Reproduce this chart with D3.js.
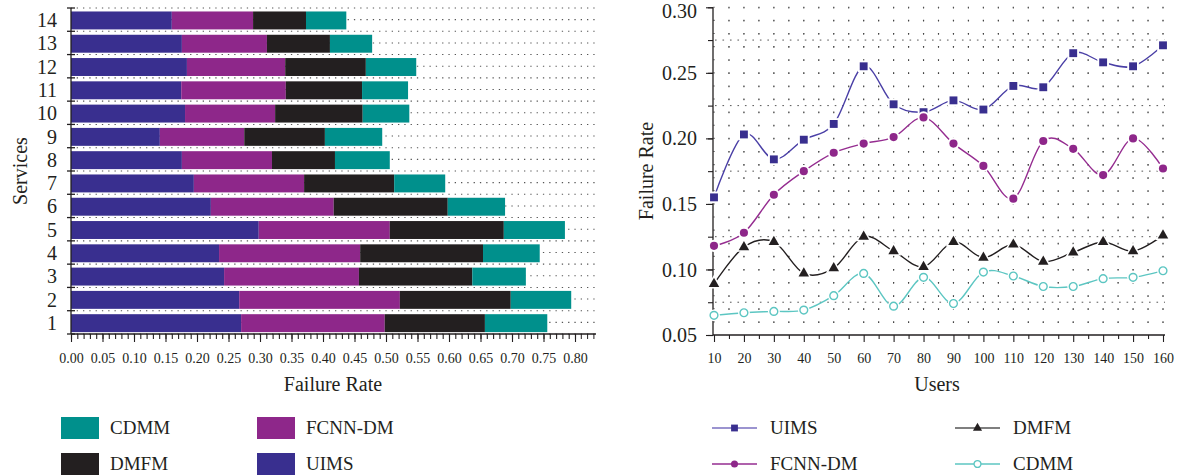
<!DOCTYPE html>
<html><head><meta charset="utf-8">
<script src="https://cdn.jsdelivr.net/npm/d3@7"></script>
<style>
body{margin:0;background:#fff}
svg{display:block}
text{font-family:"Liberation Serif","Times New Roman",serif;fill:#231f20}
</style>
</head><body>
<svg id="c" width="1179" height="476"></svg>
<script>
// ---------- data: left chart (stacked bars) ----------
const services = ["1","2","3","4","5","6","7","8","9","10","11","12","13","14"];
const barUIMS = [0.270,0.267,0.243,0.235,0.298,0.222,0.195,0.176,0.141,0.181,0.175,0.184,0.176,0.160];
const barFCNN = [0.228,0.255,0.214,0.224,0.208,0.195,0.175,0.143,0.134,0.143,0.166,0.156,0.135,0.129];
const barDMFM = [0.159,0.176,0.180,0.195,0.181,0.181,0.143,0.100,0.128,0.139,0.121,0.128,0.100,0.084];
const barCDMM = [0.099,0.096,0.085,0.090,0.097,0.091,0.081,0.087,0.091,0.074,0.073,0.080,0.067,0.064];
const leftXTicks = [0,0.05,0.10,0.15,0.20,0.25,0.30,0.35,0.40,0.45,0.50,0.55,0.60,0.65,0.70,0.75,0.80];

// ---------- data: right chart (lines) ----------
const users = [10,20,30,40,50,60,70,80,90,100,110,120,130,140,150,160];
const lineUIMS = [0.155,0.203,0.184,0.199,0.211,0.255,0.226,0.220,0.229,0.222,0.240,0.239,0.265,0.258,0.255,0.271];
const lineFCNN = [0.118,0.128,0.157,0.175,0.189,0.196,0.201,0.216,0.196,0.179,0.154,0.198,0.192,0.172,0.200,0.177];
const lineDMFM = [0.089,0.117,0.121,0.097,0.101,0.125,0.114,0.102,0.121,0.109,0.119,0.106,0.113,0.121,0.114,0.126];
const lineCDMM = [0.065,0.067,0.068,0.069,0.080,0.097,0.072,0.094,0.074,0.098,0.095,0.087,0.087,0.093,0.094,0.099];
const rightYTicks = [0.05,0.10,0.15,0.20,0.25,0.30];

const INK = "#231f20";
const COL = {UIMS:"#392f8f", FCNN:"#8e278a", DMFM:"#231f20", CDMM:"#00908c"};
const LINECOL = {UIMS:"#4a3fa6", FCNN:"#952c90", DMFM:"#231f20", CDMM:"#5cc6c2"};

const svg = d3.select("#c");

// =============== LEFT CHART ===============
const L = {x0:71, xEnd:596, y0:8, y1:334};
const xL = d3.scaleLinear().domain([0,0.8]).range([71,575]);
const yL = d3.scaleBand().domain(services.slice().reverse()).range([L.y0,L.y1]).paddingInner(0.23).paddingOuter(0.115);
const stepL = yL.step();

const gGridL = svg.append("g");
const rowsL = d3.range(0, 29).map(k => L.y0 + k*stepL/2);
const dx01 = xL(0.01)-xL(0);
gGridL.selectAll("line").data(rowsL).join("line")
  .attr("x1", L.x0).attr("x2", L.xEnd)
  .attr("y1", d=>d).attr("y2", d=>d)
  .attr("stroke", "#555").attr("stroke-width", 1.1)
  .attr("stroke-dasharray", `1.3,${(dx01-1.3).toFixed(3)}`)
  .attr("stroke-dashoffset", -dx01+0.6);

const stackRows = services.map((s,i)=>({service:s, UIMS:barUIMS[i], FCNN:barFCNN[i], DMFM:barDMFM[i], CDMM:barCDMM[i]}));
const stack = d3.stack().keys(["UIMS","FCNN","DMFM","CDMM"])(stackRows);
svg.append("g").selectAll("g").data(stack).join("g")
  .attr("fill", d=>COL[d.key])
  .selectAll("rect").data(d=>d).join("rect")
  .attr("x", d=>xL(d[0])).attr("width", d=>xL(d[1])-xL(d[0]))
  .attr("y", d=>yL(d.data.service)+0.8).attr("height", yL.bandwidth());

const gxL = svg.append("g").attr("transform", `translate(0,${L.y1})`);
gxL.call(d3.axisBottom(xL).tickValues(d3.range(0,0.8001,0.01)).tickSize(5).tickFormat(""));
gxL.call(g=>g.select(".domain").remove());
const gxL2 = svg.append("g").attr("transform", `translate(0,${L.y1})`);
gxL2.call(d3.axisBottom(xL).tickValues(leftXTicks).tickSize(8).tickFormat(d3.format(".2f")).tickPadding(11));
gxL2.select(".domain").remove();
gxL2.selectAll("text").attr("font-size", 14).attr("fill", INK).style("font-family","'Liberation Serif',serif");
svg.append("g").selectAll("line").data([0.81,0.82,0.83]).join("line")
  .attr("x1", d=>xL(d)).attr("x2", d=>xL(d)).attr("y1", L.y1).attr("y2", L.y1+5).attr("stroke", INK);
svg.selectAll(".tick line").attr("stroke", INK).attr("stroke-width", 1.1);
svg.append("line").attr("x1", L.x0).attr("x2", L.xEnd).attr("y1", L.y1).attr("y2", L.y1).attr("stroke", INK).attr("stroke-width", 1.3);

svg.append("line").attr("x1", L.x0).attr("x2", L.x0).attr("y1", L.y0).attr("y2", L.y1).attr("stroke", INK).attr("stroke-width", 1.3);
svg.append("g").selectAll("line").data(d3.range(0,15)).join("line")
  .attr("x1", L.x0-4).attr("x2", L.x0+4)
  .attr("y1", k=>L.y0+k*stepL).attr("y2", k=>L.y0+k*stepL)
  .attr("stroke", INK).attr("stroke-width", 1.3);
svg.append("g").selectAll("text").data(services).join("text")
  .attr("x", 57).attr("y", s=>yL(s)+yL.bandwidth()/2+7.5)
  .attr("text-anchor","end").attr("font-size", 20).text(s=>s);

svg.append("text").attr("x", 333).attr("y", 391).attr("text-anchor","middle").attr("font-size", 20).text("Failure Rate");
svg.append("text").attr("transform", `translate(27,171) rotate(-90)`).attr("text-anchor","middle").attr("font-size", 20).text("Services");

const legL = [
  {k:"CDMM", label:"CDMM", x:61, y:417},
  {k:"FCNN", label:"FCNN-DM", x:257, y:417},
  {k:"DMFM", label:"DMFM", x:61, y:453},
  {k:"UIMS", label:"UIMS", x:257, y:453}
];
const gl = svg.append("g").selectAll("g").data(legL).join("g").attr("transform", d=>`translate(${d.x},${d.y})`);
gl.append("rect").attr("width", 38).attr("height", 22).attr("fill", d=>COL[d.k]);
gl.append("text").attr("x", 49).attr("y", 16.5).attr("font-size", 19).text(d=>d.label);

// =============== RIGHT CHART ===============
const xR = d3.scaleLinear().domain([10,160]).range([714,1163]);
const yR = d3.scaleLinear().domain([0.05,0.30]).range([335,7.3]);
const R = {x0:713, xEnd:1165};

const gGridR = svg.append("g");
const dx5 = xR(15)-xR(10);
const dy01 = yR(0.05)-yR(0.06);
gGridR.selectAll("line.h").data(d3.range(0.06,0.3001,0.01)).join("line").attr("class","h")
  .attr("x1", xR(10)-0.6).attr("x2", R.xEnd).attr("y1", d=>yR(d)).attr("y2", d=>yR(d))
  .attr("stroke", "#444").attr("stroke-width", 1.1)
  .attr("stroke-dasharray", `1.2,${(dx5-1.2).toFixed(3)}`);
gGridR.selectAll("line.m").data([0.075,0.125,0.175,0.225,0.275]).join("line").attr("class","m")
  .attr("x1", R.x0).attr("x2", R.xEnd).attr("y1", d=>yR(d)).attr("y2", d=>yR(d))
  .attr("stroke", "#555").attr("stroke-width", 1.0)
  .attr("stroke-dasharray", `1.6,${(dx5/2-1.6).toFixed(3)}`)
  .attr("stroke-dashoffset", -2);
gGridR.selectAll("line.v").data(d3.range(15,160.1,5)).join("line").attr("class","v")
  .attr("x1", d=>xR(d)).attr("x2", d=>xR(d)).attr("y1", yR(0.3)).attr("y2", yR(0.05))
  .attr("stroke", "#444").attr("stroke-width", 1.1)
  .attr("stroke-dasharray", `1.2,${(dy01-1.2).toFixed(3)}`);

const gyR = svg.append("g").attr("transform", `translate(${R.x0},0)`);
gyR.call(d3.axisLeft(yR).tickValues(d3.range(0.05,0.3001,0.025)).tickSize(5).tickFormat(""));
gyR.select(".domain").remove();
const gyR2 = svg.append("g").attr("transform", `translate(${R.x0},0)`);
gyR2.call(d3.axisLeft(yR).tickValues(rightYTicks).tickSize(7).tickPadding(9).tickFormat(d3.format(".2f")));
gyR2.select(".domain").remove();
gyR2.selectAll("text").attr("font-size", 20).attr("dy","0.33em").style("font-family","'Liberation Serif',serif").attr("fill", INK);
gyR2.selectAll("text").filter(d=>d>0.29).attr("dy","0.52em");

const gxR = svg.append("g").attr("transform", `translate(0,335)`);
gxR.call(d3.axisBottom(xR).tickValues(d3.range(15,160,10)).tickSize(4).tickFormat(""));
gxR.select(".domain").remove();
const gxR2 = svg.append("g").attr("transform", `translate(0,335)`);
gxR2.call(d3.axisBottom(xR).tickValues(users).tickSize(7).tickPadding(11).tickFormat(d3.format("d")));
gxR2.select(".domain").remove();
gxR2.selectAll("text").attr("font-size", 14).style("font-family","'Liberation Serif',serif").attr("fill", INK);
svg.selectAll(".tick line").attr("stroke", INK).attr("stroke-width", 1.1);
svg.append("line").attr("x1", R.x0).attr("x2", R.x0).attr("y1", 7.3).attr("y2", 335).attr("stroke", INK).attr("stroke-width", 1.3);
svg.append("line").attr("x1", R.x0).attr("x2", R.xEnd).attr("y1", 335).attr("y2", 335).attr("stroke", INK).attr("stroke-width", 1.3);

svg.append("text").attr("x", 937).attr("y", 391).attr("text-anchor","middle").attr("font-size", 20).text("Users");
svg.append("text").attr("transform", `translate(653,171) rotate(-90)`).attr("text-anchor","middle").attr("font-size", 20).text("Failure Rate");

const series = [
  {k:"UIMS", vals:lineUIMS, sym:d3.symbolSquare, size:62, open:false},
  {k:"FCNN", vals:lineFCNN, sym:d3.symbolCircle, size:52, open:false},
  {k:"DMFM", vals:lineDMFM, sym:d3.symbolTriangle, size:48, open:false},
  {k:"CDMM", vals:lineCDMM, sym:d3.symbolCircle, size:50, open:true}
];
const lineGen = d3.line().x((d,i)=>xR(users[i])).y(d=>yR(d)).curve(d3.curveCardinal.tension(0));
series.forEach(s=>{
  svg.append("path").datum(s.vals).attr("d", lineGen)
    .attr("fill","none").attr("stroke", LINECOL[s.k]).attr("stroke-width", 1.4);
});
series.forEach(s=>{
  const g = svg.append("g");
  g.selectAll("path.h").data(s.vals).join("path").attr("class","h")
    .attr("transform",(d,i)=>`translate(${xR(users[i])},${yR(d)})`)
    .attr("d", d3.symbol(s.sym, s.size*2.2)).attr("fill","#fff");
  g.selectAll("path.m").data(s.vals).join("path").attr("class","m")
    .attr("transform",(d,i)=>`translate(${xR(users[i])},${yR(d)})`)
    .attr("d", d3.symbol(s.sym, s.open ? s.size*0.95 : s.size))
    .attr("fill", s.open ? "#fff" : COL[s.k])
    .attr("stroke", s.open ? LINECOL[s.k] : "none").attr("stroke-width", 1.4);
});

const legR = [
  {s:series[0], label:"UIMS", x:712, y:428},
  {s:series[2], label:"DMFM", x:955, y:428},
  {s:series[1], label:"FCNN-DM", x:712, y:464},
  {s:series[3], label:"CDMM", x:955, y:464}
];
const gr = svg.append("g").selectAll("g").data(legR).join("g").attr("transform", d=>`translate(${d.x},${d.y})`);
gr.append("line").attr("x1",0).attr("x2",45).attr("stroke", d=>d.s.k==="UIMS"?"#7a70c0":(d.s.k==="DMFM"?"#555":LINECOL[d.s.k])).attr("stroke-width",1.6);
gr.append("path").attr("transform","translate(22.5,0)")
  .attr("d", d=>d3.symbol(d.s.sym, d.s.size*0.75)())
  .attr("fill", d=>d.s.open?"#fff":COL[d.s.k])
  .attr("stroke", d=>d.s.open?LINECOL[d.s.k]:"none").attr("stroke-width",1.3);
gr.append("text").attr("x", 58).attr("y", 6).attr("font-size", 19).text(d=>d.label);
</script>
</body></html>
